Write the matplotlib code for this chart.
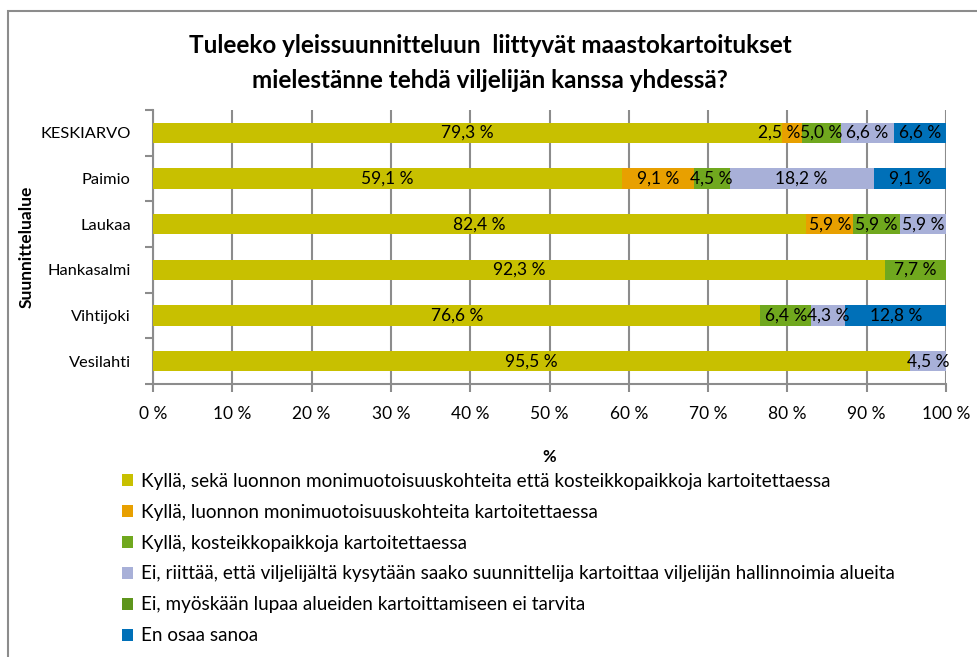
import matplotlib
matplotlib.use("Agg")
import matplotlib.pyplot as plt
from matplotlib.patches import Rectangle
import numpy as np

plt.rcParams['font.family'] = ['Lato', 'DejaVu Sans']

categories = ["KESKIARVO", "Paimio", "Laukaa", "Hankasalmi", "Vihtijoki", "Vesilahti"]
series_names = [
    "Kyllä, sekä luonnon monimuotoisuuskohteita että kosteikkopaikkoja kartoitettaessa",
    "Kyllä, luonnon monimuotoisuuskohteita kartoitettaessa",
    "Kyllä, kosteikkopaikkoja kartoitettaessa",
    "Ei, riittää, että viljelijältä kysytään saako suunnittelija kartoittaa viljelijän hallinnoimia alueita",
    "Ei, myöskään lupaa alueiden kartoittamiseen ei tarvita",
    "En osaa sanoa",
]
s_both = [79.3, 59.1, 82.4, 92.3, 76.6, 95.5]
s_nature = [2.5, 9.1, 5.9, 0.0, 0.0, 0.0]
s_wetland = [5.0, 4.5, 5.9, 7.7, 6.4, 0.0]
s_ask = [6.6, 18.2, 5.9, 0.0, 4.3, 4.5]
s_nopermit = [0.0, 0.0, 0.0, 0.0, 0.0, 0.0]
s_dontknow = [6.6, 9.1, 0.0, 0.0, 12.8, 0.0]
colors = ["#c8c000", "#e8a000", "#70a81e", "#a8b0d8", "#5e951c", "#0070b8"]

series = [s_both, s_nature, s_wetland, s_ask, s_nopermit, s_dontknow]

# label nudges in pixels (category index, series index) -> dx
label_nudge = {(0, 1): -13}

W, H = 978, 657
fig = plt.figure(figsize=(W / 100, H / 100), dpi=100)
ax = fig.add_axes([153 / W, 1 - 384 / H, (946 - 153) / W, (384 - 110) / H])

y = np.arange(len(categories))[::-1]
left = np.zeros(len(categories))
handles = []
for si, (vals, col, name) in enumerate(zip(series, colors, series_names)):
    vals = np.array(vals)
    b = ax.barh(y, vals, left=left, height=0.44, color=col, label=name, zorder=3)
    handles.append(b)
    for ci, (yi, l, v) in enumerate(zip(y, left, vals)):
        if v > 0:
            dx = label_nudge.get((ci, si), 0) * 0.72
            ax.annotate(f"{v:.1f} %".replace(".", ","), (l + v / 2, yi),
                        xytext=(dx, 0), textcoords="offset points",
                        ha="center", va="center", fontsize=12.5, color="black", zorder=4)
    left = left + vals

ax.set_xlim(0, 100)
ax.set_ylim(-0.5, len(categories) - 0.5)
ax.set_yticks(y)
ax.set_yticklabels(categories, fontsize=11.8)
ax.set_yticks(np.arange(-0.5, len(categories), 1), minor=True)
ax.tick_params(axis='y', which='major', length=0, pad=16)
ax.tick_params(axis='y', which='minor', length=6, color="#8c8c8c", width=1.5)
ax.set_xticks(np.arange(0, 101, 10))
ax.set_xticklabels([f"{v} %" for v in range(0, 101, 10)], fontsize=12.5)
ax.tick_params(axis='x', length=6, color="#8c8c8c", width=1.5, pad=10)
ax.xaxis.grid(True, color="#8c8c8c", linewidth=1.5, zorder=0)
for s in ["top", "right"]:
    ax.spines[s].set_visible(False)
for s in ["left", "bottom"]:
    ax.spines[s].set_color("#8c8c8c")
    ax.spines[s].set_linewidth(1.5)

ax.set_xlabel("%", fontsize=12, fontweight="bold", labelpad=19)
ax.set_ylabel("Suunnittelualue", fontsize=12.5, fontweight="bold", labelpad=4)

fig.text(490 / W, 1 - 63 / H,
         "Tuleeko yleissuunnitteluun  liittyvät maastokartoitukset\nmielestänne tehdä viljelijän kanssa yhdessä?",
         ha="center", va="center", fontsize=17.5, fontweight="bold", linespacing=1.6)

leg = fig.legend(handles=handles, labels=series_names, loc="upper left",
                 bbox_to_anchor=(114 / W, 1 - 465 / H), frameon=False, fontsize=13.6,
                 handlelength=0.6, handleheight=0.6, handletextpad=0.45, labelspacing=0.74,
                 borderaxespad=0)

fig.patches.append(Rectangle((8 / W, -0.01), 1.1, 1 - 11 / H + 0.01, transform=fig.transFigure,
                             fill=False, edgecolor="#8c8c8c", linewidth=1.5))

fig.savefig("out.png", dpi=100)
